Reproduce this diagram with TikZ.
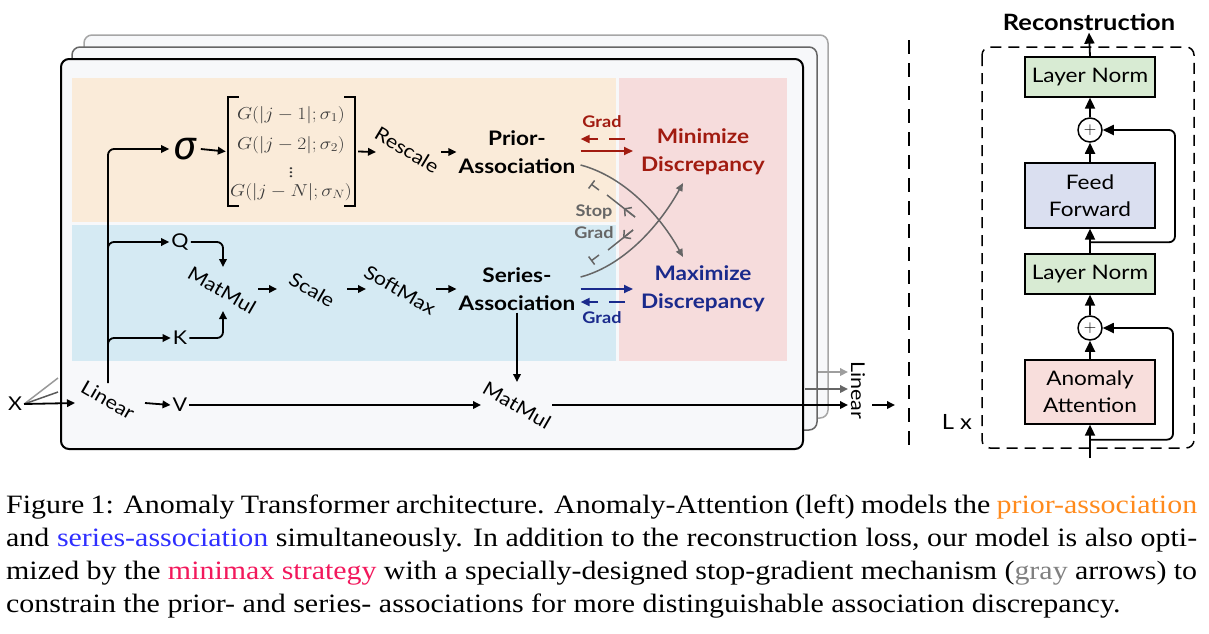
\documentclass[tikz,border=0pt]{standalone}
\usepackage{fontspec}
\setmainfont[FakeStretch=1.13]{Liberation Serif}
\newfontfamily\lato[FakeStretch=1.13]{Lato}
\newfontfamily\fira{Fira Sans}
\usetikzlibrary{arrows.meta,calc}
\definecolor{cardfill}{HTML}{F7F8FA}
\definecolor{orangebg}{HTML}{FAEBD9}
\definecolor{bluebg}{HTML}{D5EAF3}
\definecolor{pinkbg}{HTML}{F6DCDC}
\definecolor{minred}{HTML}{A11B10}
\definecolor{maxblue}{HTML}{1A2A8C}
\definecolor{sgray}{HTML}{666666}
\definecolor{lngreen}{HTML}{D8EBD3}
\definecolor{ffblue}{HTML}{DADFF0}
\definecolor{aapink}{HTML}{F8DEDC}
\definecolor{capor}{HTML}{FF8A1C}
\definecolor{capbl}{HTML}{2F2FFF}
\definecolor{cappk}{HTML}{F2185C}
\definecolor{capgr}{HTML}{808080}
\definecolor{mtx}{HTML}{3A3A3A}
\tikzset{
 lbl/.style={font=\lato\fontsize{19}{20}\selectfont, inner sep=2pt},
 blbl/.style={font=\lato\bfseries\fontsize{20}{28}\selectfont, align=center, inner sep=2pt},
 glbl/.style={font=\lato\bfseries\fontsize{16}{20}\selectfont, inner sep=0pt},
 arr/.style={line width=1.8pt, -{Triangle[length=8pt,width=7.5pt]}},
 rarr/.style={line width=1.8pt, -{Triangle[length=11pt,width=10pt]}},
 garr/.style={line width=1.8pt, -{Triangle[length=9pt,width=8pt]}},
 sgline/.style={sgray, line width=1.5pt},
 box/.style={draw, line width=1.3pt, minimum width=130pt, font=\lato\fontsize{20}{27}\selectfont, align=center, inner sep=0pt},
 pluscirc/.style={circle, draw, line width=1.5pt, fill=white, minimum size=24pt, inner sep=0pt, font=\fontsize{16}{16}\selectfont},
 mrow/.style={text=mtx, font=\fontsize{17}{17}\selectfont, inner sep=0pt, xscale=1.13},
 capline/.style={anchor=base west, inner sep=0pt, font=\fontsize{26.5}{33}\selectfont},
}
\begin{document}
\begin{tikzpicture}[x=1pt,y=-1pt]
\useasboundingbox (0,0) rectangle (1209,633);
% stacked cards
\draw[fill=cardfill, draw=black!35, line width=1.5pt, rounded corners=8pt] (84,35) rectangle (828,418);
\draw[fill=cardfill, draw=black!60, line width=1.5pt, rounded corners=8pt] (72,47) rectangle (817,430);
\draw[fill=cardfill, draw=black, line width=2pt, rounded corners=8pt] (61,59) rectangle (803,449);
\fill[orangebg] (72,78) rectangle (616,222);
\fill[bluebg] (72,225) rectangle (616,361);
\fill[pinkbg] (619,78) rectangle (787,361);

% nodes left
\node[lbl] (X) at (15,404) {X};
\node[lbl, rotate=-30] (lin) at (108,400) {Linear};
\coordinate (trunk) at (108,383);
\node[inner sep=4pt, font=\fira\itshape\fontsize{40}{40}\selectfont] (sig) at (185,149) {σ};
\node[minimum width=127pt, minimum height=109pt, inner sep=0pt] (mat) at (291.5,151.5) {};
\draw[line width=2.2pt] ($(mat.north west)+(11,0)$) -- (mat.north west) -- (mat.south west) -- ++(11,0);
\draw[line width=2.2pt] ($(mat.north east)+(-11,0)$) -- (mat.north east) -- (mat.south east) -- ++(-11,0);
\node[mrow] (r1) at (291,115) {$G(|j-1|;\sigma_1)$};
\node[mrow] (r2) at (291,145) {$G(|j-2|;\sigma_2)$};
\node[mrow] (r3) at (291,170) {$\vdots$};
\node[mrow] (r4) at (291,192) {$G(|j-N|;\sigma_N)$};
\node[lbl, rotate=-31] (resc) at (407,150) {Rescale};
\node[blbl] (prior) at (517,152) {Prior-\\Association};
\node[blbl, text=minred] (minim) at (703,152) {Minimize\\Discrepancy};

\node[lbl] (Q) at (180,242) {Q};
\node[lbl] (K) at (180,338) {K};
\node[lbl, rotate=-30] (mm1) at (222,290) {MatMul};
\node[lbl, rotate=-30] (scale) at (312,290) {Scale};
\node[lbl, rotate=-30] (soft) at (400,290) {SoftMax};
\node[blbl] (series) at (517,289) {Series-\\Association};
\node[blbl, text=maxblue] (maxim) at (703,289) {Maximize\\Discrepancy};

\node[lbl] (V) at (180,405) {V};
\node[lbl, rotate=-30] (mm2) at (517,405) {MatMul};
\node[lbl, rotate=-90] (linR) at (858,390) {Linear};

% upper branch
\draw[arr, rounded corners=6pt] (trunk) |- (sig.west);
\draw[arr] (sig.east) -- ($(mat.west)+(-2,0)$);
\draw[arr] ($(mat.east)+(3,0)$) -- ($(resc)+(-31,2)$);
\draw[arr] ($(resc)+(34,2)$) -- (prior.west);

% Q K branch
\draw[arr, rounded corners=6pt] ($(trunk|-Q)+(0,16)$) |- (Q.west);
\draw[arr, rounded corners=6pt] ($(trunk|-K)+(0,16)$) |- (K.west);
\draw[arr, rounded corners=6pt] (Q.east) -| ($(mm1)+(1,-23)$);
\draw[arr, rounded corners=6pt] (K.east) -| ($(mm1)+(1,21)$);
\draw[arr] ($(mm1)+(36,-1)$) -- ($(scale)+(-35,-1)$);
\draw[arr] ($(scale)+(35,-1)$) -- ($(soft)+(-34,-1)$);
\draw[arr] ($(soft)+(36,-1)$) -- (series.west);

% grad arrows
\draw[garr, minred] ($(prior.east)+(3,-1)$) -- ($(minim.west)+(-6,-1)$);
\draw[garr, minred, dash pattern=on 16pt off 11pt] ($(minim.west)+(-14,-13)$) -- ($(prior.east)+(3,-13)$);
\node[glbl, text=minred] (gradR) at (602,122) {Grad};
\draw[garr, maxblue] ($(series.east)+(3,0)$) -- ($(maxim.west)+(-6,0)$);
\draw[garr, maxblue, dash pattern=on 16pt off 11pt] ($(maxim.west)+(-14,13)$) -- ($(series.east)+(3,13)$);
\node[glbl, text=maxblue] (gradB) at (602,318) {Grad};

% stop-gradient crossing
\draw[sgline, -{Triangle[length=8pt,width=7pt]}] ($(prior.east)+(3,13)$) .. controls +(45,12) and +(-22,-40) .. ($(maxim)+(-20,-32)$);
\draw[sgline, -{Triangle[length=8pt,width=7pt]}] ($(series.east)+(3,-12)$) .. controls +(45,-12) and +(-22,40) .. ($(minim)+(-20,31)$);
\coordinate (s1a) at (635,217);
\coordinate (s1b) at (607,195);
\coordinate (s1c) at (599,190);
\coordinate (s1d) at (591,184);
\draw[sgline] (s1a) -- (s1b);
\draw[sgline, -{Straight Barb[length=5pt,width=11pt]}] (s1a) -- ($(s1a)!0.4!(s1b)$);
\draw[sgline, -{Bar[width=10pt]}] (s1c) -- (s1d);
\coordinate (s2a) at (633,230);
\coordinate (s2b) at (608,250);
\coordinate (s2c) at (599,255);
\coordinate (s2d) at (591,261);
\draw[sgline] (s2a) -- (s2b);
\draw[sgline, -{Straight Barb[length=5pt,width=11pt]}] (s2a) -- ($(s2a)!0.4!(s2b)$);
\draw[sgline, -{Bar[width=10pt]}] (s2c) -- (s2d);
\node[glbl, text=sgray] (stop) at (594,212) {Stop};
\node[glbl, text=sgray] (gradS) at (594,233) {Grad};

% bottom row
\coordinate (c3in) at (58,378);
\coordinate (c2in) at (58,392);
\draw[line width=1.5pt, black!40] (X.east) -- (c3in);
\draw[line width=1.5pt, black!65] (X.east) -- (c2in);
\draw[arr] (X.east) -- ($(lin)+(-33,3)$);
\draw[arr] ($(lin)+(37,3)$) -- (V.west);
\draw[arr] (V.east) -- ($(mm2)+(-36,0)$);
\draw[arr] (series.south) -- ($(mm2)+(0,-23)$);
\draw[arr] ($(mm2)+(35,0)$) -- ($(linR)+(-10,15)$);
\coordinate (c2out) at (805,389);
\coordinate (c3out) at (818,372);
\draw[arr, black!60] (c2out) -- ($(linR)+(-10,-1)$);
\draw[arr, black!38] (c3out) -- ($(linR)+(-10,-18)$);
\coordinate (encin) at (895,405);
\draw[arr] ($(linR)+(14,15)$) -- (encin);

% divider
\coordinate (dv1) at (909,40);
\coordinate (dv2) at (909,453);
\draw[line width=2pt, dash pattern=on 14pt off 9pt] (dv1) -- (dv2);

% encoder block
\draw[line width=1.5pt, dash pattern=on 11pt off 7pt, rounded corners=8pt] (982,47) rectangle (1194,448);
\node[font=\lato\bfseries\fontsize{22.5}{22.5}\selectfont, inner sep=2pt] (rec) at (1089,22) {Reconstruction};
\node[box, fill=lngreen, minimum height=40pt] (ln1) at (1090,77) {Layer Norm};
\node[pluscirc] (p1) at (1090,130) {$+$};
\node[box, fill=ffblue, minimum height=65pt] (ff) at (1090,195.5) {Feed\\Forward};
\node[box, fill=lngreen, minimum height=40pt] (ln2) at (1090,274) {Layer Norm};
\node[pluscirc] (p2) at (1090,328) {$+$};
\node[box, fill=aapink, minimum height=64pt] (aa) at (1090,392) {Anomaly\\Attention};
\node[font=\lato\fontsize{21}{21}\selectfont, inner sep=0pt] (Lx) at (957,422) {L x};
\coordinate (in) at (1090,458);
\draw[rarr] (ln1.north) -- (rec.south);
\draw[rarr] (p1.north) -- (ln1.south);
\draw[rarr] (ff.north) -- (p1.south);
\draw[rarr] (ln2.north) -- (ff.south);
\draw[rarr, rounded corners=6pt] ($(ln2.north)!0.45!(ff.south)$) -- ++(85,0) |- (p1.east);
\draw[rarr] (p2.north) -- (ln2.south);
\draw[rarr] (aa.north) -- (p2.south);
\draw[rarr] (in) -- (aa.south);
\draw[rarr, rounded corners=6pt] ($(aa.south)+(0,15)$) -- ++(83,0) |- (p2.east);

% caption
\node[capline] (cap1) at (6,513) {\makebox[1191pt][s]{Figure 1: Anomaly Transformer architecture. Anomaly-Attention (left) models the \textcolor{capor}{prior-association}}};
\node[capline] (cap2) at (6,546) {\makebox[1191pt][s]{and \textcolor{capbl}{series-association} simultaneously. In addition to the reconstruction loss, our model is also opti-}};
\node[capline] (cap3) at (6,579) {\makebox[1191pt][s]{mized by the \textcolor{cappk}{minimax strategy} with a specially-designed stop-gradient mechanism (\textcolor{capgr}{gray} arrows) to}};
\node[capline] (cap4) at (6,612) {constrain the prior- and series- associations for more distinguishable association discrepancy.};
\end{tikzpicture}
\end{document}
